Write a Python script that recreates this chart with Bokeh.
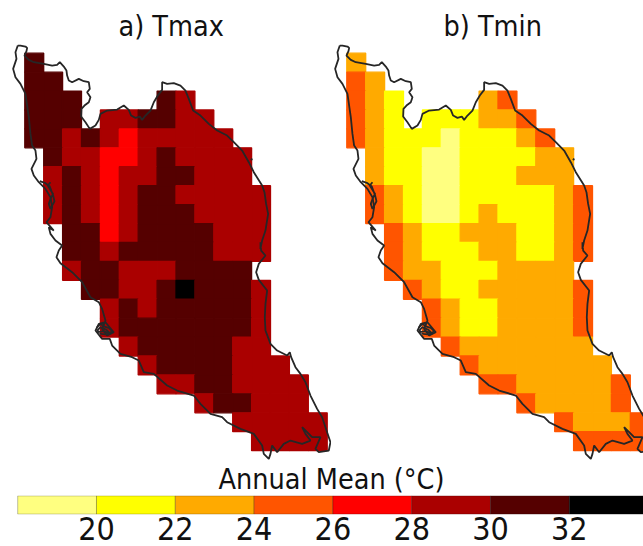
from bokeh.plotting import figure
from bokeh.layouts import column, row
from bokeh.models import ColumnDataSource, LinearColorMapper, FixedTicker, Range1d
from bokeh.transform import transform
from bokeh.embed import file_html
from bokeh.resources import INLINE

_ = None
# Annual mean per 0.25 degree cell (north to south, west to east), bin midpoints in deg C
TMAX = [
    [31,_,_,_,_,_,_,_,_,_,_,_,_,_,_,_],
    [31,31,_,_,_,_,_,_,_,_,_,_,_,_,_,_],
    [31,31,31,_,_,_,_,31,29,_,_,_,_,_,_,_],
    [31,31,31,_,29,29,31,31,29,29,_,_,_,_,_,_],
    [31,31,29,31,29,27,29,29,29,29,29,_,_,_,_,_],
    [_,31,29,29,27,27,29,31,29,29,29,29,_,_,_,_],
    [_,29,31,29,27,29,29,31,31,29,29,29,_,_,_,_],
    [_,29,31,29,27,29,31,31,29,29,29,29,29,_,_,_],
    [_,29,31,29,27,29,31,31,31,29,29,29,29,_,_,_],
    [_,_,31,31,27,29,31,31,31,31,29,29,29,_,_,_],
    [_,_,31,31,29,31,31,31,31,31,29,29,29,_,_,_],
    [_,_,29,31,31,29,29,29,31,31,31,31,_,_,_,_],
    [_,_,_,31,31,29,29,31,33,31,31,31,29,_,_,_],
    [_,_,_,_,29,31,29,31,31,31,31,31,29,_,_,_],
    [_,_,_,_,29,31,31,31,31,31,31,31,29,_,_,_],
    [_,_,_,_,_,29,31,31,31,31,31,29,29,_,_,_],
    [_,_,_,_,_,_,29,31,31,31,31,29,29,29,_,_],
    [_,_,_,_,_,_,_,29,29,31,31,29,29,29,29,_],
    [_,_,_,_,_,_,_,_,_,29,31,31,29,29,29,_],
    [_,_,_,_,_,_,_,_,_,_,_,29,29,29,29,29],
    [_,_,_,_,_,_,_,_,_,_,_,_,29,29,29,29],
]
TMIN = [
    [23,_,_,_,_,_,_,_,_,_,_,_,_,_,_,_],
    [25,23,_,_,_,_,_,_,_,_,_,_,_,_,_,_],
    [25,23,21,_,_,_,_,23,25,_,_,_,_,_,_,_],
    [25,23,21,_,21,21,21,23,23,25,_,_,_,_,_,_],
    [25,23,21,21,21,19,21,21,21,23,25,_,_,_,_,_],
    [_,23,21,21,19,19,21,21,21,21,23,23,_,_,_,_],
    [_,23,21,21,19,19,21,21,21,23,23,23,_,_,_,_],
    [_,25,23,21,19,19,21,21,21,21,21,23,25,_,_,_],
    [_,25,23,21,19,19,21,23,21,21,21,23,25,_,_,_],
    [_,_,25,23,21,21,23,23,23,21,21,23,25,_,_,_],
    [_,_,25,23,21,21,21,23,23,21,21,23,25,_,_,_],
    [_,_,25,23,23,21,21,21,23,23,23,23,_,_,_,_],
    [_,_,_,25,23,21,21,23,23,23,23,23,25,_,_,_],
    [_,_,_,_,25,23,21,21,23,23,23,23,25,_,_,_],
    [_,_,_,_,25,23,21,21,23,23,23,23,25,_,_,_],
    [_,_,_,_,_,25,23,23,23,23,23,23,23,_,_,_],
    [_,_,_,_,_,_,25,23,23,23,23,23,23,23,_,_],
    [_,_,_,_,_,_,_,25,25,23,23,23,23,23,25,_],
    [_,_,_,_,_,_,_,_,_,25,23,23,23,23,25,_],
    [_,_,_,_,_,_,_,_,_,_,_,25,23,23,23,25],
    [_,_,_,_,_,_,_,_,_,_,_,_,25,25,25,25],
]
PALETTE = ["#FFFF80", "#FFFF00", "#FFAA00", "#FF5500", "#FF0000", "#AA0000", "#550000", "#000000"]
BIN_EDGES = [18, 20, 22, 24, 26, 28, 30, 32, 34]
TICK_VALUES = [20, 22, 24, 26, 28, 30, 32]
TITLE_A = "a) Tmax"
TITLE_B = "b) Tmin"
CBAR_TITLE = "Annual Mean (°C)"

# Digitised coastline / border, in map sheet units (converted to lon/lat below)
COAST_N_X = [52,60,75,80,78,72,85,100,130,155,170,178,190,198,200,205,215,235,250,265,268,260,270,265,252,243,242,255,268,285,295,300,320,350,370,385,392,405,418,425,435,450,460,472,485,485,500,520,540,555,565,578,600,625,650,680,700,725,745,760,785,792,797,803,795,785,780]
COAST_N_Y = [45,45,48,52,62,75,88,95,100,105,103,95,108,120,135,150,155,145,152,155,175,185,200,215,225,235,258,275,295,285,268,250,240,237,225,238,255,262,258,268,255,240,215,195,178,155,160,158,165,180,205,240,255,280,300,315,335,360,395,425,465,485,520,550,600,630,655]
COAST_S_X = [780,782,795,775,767,775,800,795,793,795,810,830,860,868,872,885,900,915,930,950,965,985,990,985,955,945,960,935,905,915,930,905,870,850,830,815,810,805,790,785,760,720,680,665,630,600,580,530,500,460,430,415,395,360,335,328,305,285,295,315,340,320,305,315,305,295,270,245,215,180,168,175,185,165]
COAST_S_Y = [5,30,45,70,95,118,150,190,230,270,310,330,345,335,350,380,400,425,465,505,530,590,605,630,635,625,590,590,560,580,600,610,600,610,635,615,640,655,640,615,580,565,545,530,520,490,465,450,435,400,395,360,350,340,315,295,295,270,250,245,275,285,265,240,205,185,170,125,95,68,50,30,15,0]
COAST_W_X = [150,145,160,138,150,155,150,135,115,100,93,108,105,95,90,85,75,60,45,38,48,45,52]
COAST_W_Y = [610,590,600,575,560,530,500,475,455,435,415,385,360,345,310,260,190,160,140,115,85,65,45]
ISLES_X = [118,135,148,158,162,150,145,152,158,150,142,150]
ISLES_Y = [452,458,468,495,512,535,520,500,490,478,465,455]
ISLET_X = [751,756]
ISLET_Y = [385,388]
BLOB_X = [288,300,312,325,335,322,302,290,300,318,330,310,292]
BLOB_Y = [262,250,258,262,272,282,280,270,260,268,280,272,275]

def lon_n(x): return 100.25 + (x - 73) / 226.8
def lat_n(y): return 6.5 - (y - 68) / 227.1
def lat_s(y): return 6.5 - (y + 562) / 227.1

coast_lon = [lon_n(x) for x in COAST_N_X + COAST_S_X + COAST_W_X]
coast_lat = [lat_n(y) for y in COAST_N_Y] + [lat_s(y) for y in COAST_S_Y] + [lat_n(y) for y in COAST_W_Y]
isle_lon = [lon_n(x) for x in ISLES_X]
isle_lat = [lat_n(y) for y in ISLES_Y]
islet_lon = [lon_n(x) for x in ISLET_X]
islet_lat = [lat_n(y) for y in ISLET_Y]
blob_lon = [lon_n(x) for x in BLOB_X]
blob_lat = [lat_s(y) for y in BLOB_Y]

FONT = "DejaVu Sans Condensed"
mapper = LinearColorMapper(palette=PALETTE, low=BIN_EDGES[0], high=BIN_EDGES[-1])


def panel(grid, title, width, lon_start, title_offset):
    cells = {"lon": [], "lat": [], "val": []}
    for r, line in enumerate(grid):
        for c, v in enumerate(line):
            if v is not None:
                cells["lon"].append(100.25 + 0.25 * c + 0.125)
                cells["lat"].append(6.5 - 0.25 * r - 0.125)
                cells["val"].append(v)
    p = figure(width=width, height=460, output_backend="svg", toolbar_location=None,
               title=title, tools="", min_border=0, min_border_top=42,
               x_range=Range1d(lon_start, lon_start + width / 75.6),
               y_range=Range1d(6.6415 - 418 / 75.7, 6.6415))
    p.title.text_font = FONT
    p.title.text_font_size = "28.5px"
    p.title.text_font_style = "normal"
    p.title.text_color = "#111111"
    p.title.align = "left"
    p.title.offset = title_offset
    p.title.standoff = 0
    p.title.text_line_height = 1.0
    p.axis.visible = False
    p.grid.visible = False
    p.outline_line_color = None
    p.rect("lon", "lat", 0.25, 0.25, source=ColumnDataSource(cells),
           fill_color=transform("val", mapper), line_color=transform("val", mapper), line_width=1.3)
    p.multi_line([coast_lon, isle_lon, islet_lon, blob_lon], [coast_lat, isle_lat, islet_lat, blob_lat],
                 line_color="#262626", line_width=1.8)
    return p


a = panel(TMAX, TITLE_A, 331, 99.9286, 118)
b = panel(TMIN, TITLE_B, 312, 100.0476, 112)

cb = figure(width=643, height=86, output_backend="svg", toolbar_location=None, tools="",
            title=CBAR_TITLE, min_border=0, min_border_top=32, min_border_bottom=32,
            x_range=Range1d(17.5635, 17.5635 + 643 / 39.4), y_range=Range1d(-0.02, 1.02))
cb.title.text_font = FONT
cb.title.text_font_size = "28.5px"
cb.title.text_font_style = "normal"
cb.title.text_color = "#111111"
cb.title.align = "left"
cb.title.offset = 218
cb.title.standoff = 0
cb.title.text_line_height = 1.0
cb.quad(left=BIN_EDGES[:-1], right=BIN_EDGES[1:], bottom=0, top=1, fill_color=PALETTE,
        line_color="#000000", line_alpha=0.25, line_width=1)
cb.grid.visible = False
cb.yaxis.visible = False
cb.outline_line_color = None
cb.xaxis.ticker = FixedTicker(ticks=TICK_VALUES)
cb.xaxis.axis_line_color = None
cb.xaxis.major_tick_line_color = None
cb.xaxis.minor_tick_line_color = None
cb.xaxis.major_tick_in = 0
cb.xaxis.major_tick_out = 0
cb.xaxis.minor_tick_in = 0
cb.xaxis.minor_tick_out = 0
cb.xaxis.major_label_text_font = FONT
cb.xaxis.major_label_text_font_size = "32px"
cb.xaxis.major_label_text_color = "#111111"
cb.xaxis.major_label_standoff = 2

page = column(row(a, b, spacing=0), cb, spacing=0)
open("out.html", "w").write(file_html(page, INLINE))
